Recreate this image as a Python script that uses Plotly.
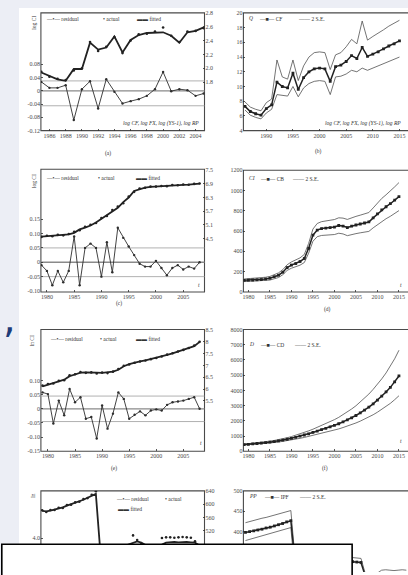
import plotly.graph_objects as go

# ---------------- data ----------------
years_a = list(range(1985, 2006))
resid_a = [0.027, 0.009, 0.009, 0.017, -0.088, 0.005, 0.029, -0.053, 0.035, -0.003, -0.038,
           -0.031, -0.025, -0.015, 0.005, 0.057, -0.001, 0.005, 0.002, -0.015, -0.008]
fitted_a = [1.94, 1.89, 1.84, 1.82, 1.99, 1.99, 2.37, 2.27, 2.30, 2.46, 2.23, 2.41, 2.48,
            2.51, 2.52, 2.52, 2.47, 2.37, 2.52, 2.54, 2.59]
actual_a = [1.95, 1.88, 1.85, 1.83, 1.97, 2.00, 2.38, 2.25, 2.31, 2.45, 2.22, 2.40, 2.49,
            2.50, 2.53, 2.59, 2.47, 2.38, 2.53, 2.54, 2.58]
bands_a = [0.03, 0.0, -0.045]
xt_a = [1986, 1988, 1990, 1992, 1994, 1996, 1998, 2000, 2002, 2004]
yl_a = [0.08, 0.04, 0.0, -0.04, -0.08, -0.12]
yl_a_txt = ["0.08", "0.04", "0", "-0.04", "-0.08", "-0.12"]
yr_a = [1.8, 2.0, 2.2, 2.4, 2.6, 2.8]

years_b = list(range(1986, 2016))
cf_b = [7.3, 6.6, 6.3, 6.1, 7.0, 7.5, 10.6, 10.0, 9.8, 11.8, 9.6, 11.2, 12.0, 12.4, 12.5,
        12.4, 10.7, 12.7, 12.9, 13.4, 14.2, 13.8, 15.3, 14.1, 14.4, 14.7, 15.1, 15.5, 15.8, 16.2]
up_b = [7.9, 7.2, 6.9, 6.7, 7.8, 8.3, 13.6, 11.3, 11.0, 13.6, 10.8, 12.8, 14.0, 14.6, 14.7,
        14.6, 12.3, 14.3, 14.6, 15.4, 16.4, 15.8, 18.9, 16.3, 16.8, 17.2, 17.7, 18.2, 18.6, 19.0]
lo_b = [6.8, 6.1, 5.8, 5.6, 6.4, 6.9, 8.9, 8.8, 8.7, 10.0, 8.6, 9.8, 10.4, 10.7, 10.8,
        10.7, 8.9, 11.3, 11.4, 11.7, 12.2, 12.0, 12.5, 12.2, 12.5, 12.8, 13.1, 13.4, 13.7, 14.0]
xt_b = [1990, 1995, 2000, 2005, 2010, 2015]
yt_b = [4, 6, 8, 10, 12, 14, 16, 18, 20]

years_c = list(range(1979, 2009))
resid_c = [-0.01, -0.03, -0.08, -0.03, -0.07, -0.03, 0.09, -0.08, 0.05, 0.065, 0.05, -0.05,
           0.07, -0.035, 0.12, 0.085, 0.055, 0.025, -0.005, -0.015, -0.015, 0.005, -0.02,
           -0.045, -0.02, -0.01, -0.025, -0.015, -0.022, 0.0]
fitted_c = [4.58, 4.60, 4.62, 4.64, 4.66, 4.68, 4.75, 4.90, 4.98, 5.07, 5.20, 5.36, 5.52,
            5.70, 5.85, 6.10, 6.30, 6.59, 6.68, 6.74, 6.77, 6.79, 6.80, 6.82, 6.84, 6.85,
            6.86, 6.87, 6.89, 6.91]
actual_c = [4.57, 4.62, 4.60, 4.66, 4.64, 4.70, 4.80, 4.86, 5.02, 5.10, 5.18, 5.40, 5.49,
            5.75, 5.90, 6.05, 6.34, 6.55, 6.70, 6.73, 6.78, 6.78, 6.81, 6.80, 6.85, 6.84,
            6.87, 6.86, 6.90, 6.92]
bands_c = [0.05, 0.0, -0.05]
xt_c = [1980, 1985, 1990, 1995, 2000, 2005]
yl_c = [0.15, 0.10, 0.05, 0.0, -0.05, -0.10]
yl_c_txt = ["0.15", "0.10", "0.05", "0", "-0.05", "-0.10"]
yr_c = [4.5, 5.1, 5.7, 6.3, 6.9, 7.5]

years_d = list(range(1979, 2016))
cf_d = [115, 117, 118, 120, 122, 128, 135, 150, 165, 195, 240, 265, 280, 300, 330, 430, 560,
        610, 625, 630, 635, 640, 655, 650, 635, 650, 660, 670, 680, 690, 730, 770, 810, 840,
        870, 905, 940]
up_d = [128, 130, 132, 135, 138, 145, 153, 170, 188, 220, 268, 296, 313, 336, 370, 478, 620,
        675, 693, 700, 707, 714, 731, 728, 715, 732, 745, 757, 770, 783, 828, 875, 922, 958,
        994, 1036, 1078]
lo_d = [102, 104, 104, 105, 106, 111, 117, 130, 142, 170, 212, 234, 247, 264, 290, 382, 500,
        545, 557, 560, 563, 566, 579, 572, 555, 568, 575, 583, 590, 597, 632, 665, 698, 722,
        746, 774, 802]
xt_d = [1980, 1985, 1990, 1995, 2000, 2005, 2010, 2015]
yt_d = [0, 200, 400, 600, 800, 1000, 1200]

years_e = list(range(1979, 2009))
resid_e = [0.058, 0.052, -0.052, 0.029, -0.023, 0.07, 0.023, 0.041, -0.035, -0.029, -0.105,
           0.012, -0.07, -0.017, 0.058, 0.035, -0.035, -0.021, -0.009, -0.023, -0.006,
           -0.002, -0.006, 0.014, 0.023, 0.026, 0.029, 0.035, 0.041, 0.0]
fitted_e = [6.12, 6.20, 6.27, 6.33, 6.40, 6.55, 6.62, 6.70, 6.71, 6.72, 6.70, 6.69, 6.71,
            6.74, 6.82, 6.97, 7.06, 7.13, 7.17, 7.22, 7.27, 7.32, 7.38, 7.45, 7.51, 7.58,
            7.65, 7.72, 7.82, 8.00]
actual_e = [6.15, 6.22, 6.24, 6.35, 6.38, 6.59, 6.63, 6.72, 6.69, 6.71, 6.66, 6.70, 6.68,
            6.74, 6.85, 6.99, 7.04, 7.12, 7.17, 7.21, 7.27, 7.32, 7.38, 7.46, 7.52, 7.59,
            7.66, 7.74, 7.84, 8.00]
bands_e = [0.045, 0.0, -0.045]
xt_e = [1980, 1985, 1990, 1995, 2000, 2005]
yl_e = [0.10, 0.05, 0.0, -0.05, -0.10, -0.15]
yl_e_txt = ["0.10", "0.05", "0", "-0.05", "-0.10", "-0.15"]
yr_e = [5.5, 6.0, 6.5, 7.0, 7.5, 8.0, 8.5]

years_f = list(range(1979, 2016))
cf_f = [440, 460, 480, 510, 540, 570, 600, 640, 680, 730, 790, 850, 920, 990, 1070, 1150,
        1240, 1330, 1420, 1510, 1600, 1700, 1810, 1930, 2060, 2200, 2350, 2520, 2700, 2900,
        3120, 3360, 3620, 3900, 4200, 4560, 4950]
up_f = [470, 495, 520, 555, 590, 625, 665, 710, 760, 820, 890, 965, 1050, 1140, 1240, 1340,
        1450, 1570, 1690, 1810, 1940, 2080, 2230, 2400, 2580, 2780, 2990, 3230, 3480, 3760,
        4070, 4400, 4760, 5150, 5580, 6080, 6640]
lo_f = [410, 428, 445, 470, 495, 520, 545, 575, 605, 645, 690, 740, 795, 850, 910, 975,
        1040, 1110, 1180, 1250, 1310, 1390, 1470, 1560, 1650, 1750, 1860, 1980, 2110, 2250,
        2400, 2570, 2750, 2940, 3150, 3390, 3650]
xt_f = [1980, 1985, 1990, 1995, 2000, 2005, 2010, 2015]
yt_f = [0, 1000, 2000, 3000, 4000, 5000, 6000, 7000, 8000]

idx_g = list(range(40))
fitted_g = [580, 579, 581, 584, 588, 591, 596, 600, 604, 609, 614, 620, 627, 632,
            470, 465, 462, 463, 465, 470, 474, 478, 482, 488, 484, 478, 470, 468, 472, 478,
            484, 486, 486, 485, 486, 486, 485, 484, 476, 470]
actual_g = [582, 577, 583, 583, 590, 589, 598, 599, 606, 608, 616, 619, 629, 640,
            466, 462, 465, 460, 468, 468, 476, 475, 506, 492, 480, 475, 472, 465, 475, 498,
            500, 500, 499, 500, 501, 500, 499, 488, 472, 468]
resid_g = [3.55, 3.50, 3.58, 3.45, 3.60, 3.48, 3.62, 3.50, 3.57, 3.46, 3.60, 3.50, 3.58, 3.70,
           3.30, 3.40, 3.52, 3.38, 3.55, 3.45, 3.60, 3.47, 3.75, 3.50, 3.42, 3.48, 3.55, 3.40,
           3.52, 3.78, 3.68, 3.62, 3.60, 3.64, 3.66, 3.60, 3.58, 3.50, 3.45, 3.48]
yl_g = [4.0]
yr_g = [520, 560, 600, 640]

idx_h = list(range(40))
cf_h = [398, 400, 402, 404, 406, 409, 411, 414, 417, 420, 424, 427,
        326, 325, 327, 324, 326, 325, 327, 326, 324, 326, 325, 327, 326, 325, 326, 325, 324,
        292, 290, 289, 291, 290, 289, 290, 291, 290, 289, 290]
up_h = [422, 425, 427, 430, 433, 435, 438, 441, 444, 447, 450, 452,
        336, 335, 337, 334, 336, 335, 337, 336, 334, 336, 335, 337, 336, 335, 336, 335, 334,
        298, 298, 298, 298, 305, 306, 305, 304, 305, 306, 305]
lo_h = [378, 381, 384, 386, 389, 392, 395, 398, 401, 404, 407, 410,
        298, 297, 298, 296, 298, 297, 298, 297, 296, 298, 297, 298, 297, 296, 298, 297, 296,
        270, 269, 270, 268, 270, 269, 270, 268, 270, 269, 270]
yt_h = [400, 450, 500]

# ---------------- helpers ----------------
W, H = 408, 575
def fx(p): return p / W
def fy(p): return 1 - p / H

FONT = "Liberation Serif"
INK = "#2e2e2e"
TICKFONT = dict(family=FONT, size=6, color="#4a4a4a")

layout = dict(width=W, height=H, autosize=False, margin=dict(l=0, r=0, t=0, b=0),
              paper_bgcolor="#eceef5", plot_bgcolor="rgba(0,0,0,0)", showlegend=False,
              hovermode=False)
shapes = []
annots = []
traces = []

# white page
shapes.append(dict(type="rect", xref="paper", yref="paper", x0=fx(18), x1=1.05, y0=-0.05,
                   y1=fy(5), fillcolor="white", line=dict(width=0), layer="below"))

def common_axis():
    return dict(ticks="inside", ticklen=2, tickwidth=0.8, tickcolor=INK, showgrid=False,
                zeroline=False, showline=False, tickfont=TICKFONT, tickangle=0,
                tickmode="array", fixedrange=True)

def add_box(box):
    x0, y0, x1, y1 = box
    shapes.append(dict(type="rect", xref="paper", yref="paper", x0=fx(x0), x1=fx(x1),
                       y0=fy(y1), y1=fy(y0), line=dict(color="#4a4a4a", width=1.1),
                       fillcolor="rgba(0,0,0,0)", layer="below"))

def set_x(name, box, rng, tickvals, anchor, show=True):
    x0, y0, x1, y1 = box
    d = common_axis()
    d.update(domain=[fx(x0), min(1.0, fx(x1))], range=rng, tickvals=tickvals,
             anchor=anchor, showticklabels=show)
    layout[name] = d

def set_y(name, box, rng, tickvals, anchor, side="left", overlaying=None, ticktext=None):
    x0, y0, x1, y1 = box
    d = common_axis()
    d.update(domain=[max(0.0, fy(y1)), fy(y0)], range=rng, tickvals=tickvals,
             anchor=anchor, side=side)
    if ticktext is not None:
        d["ticktext"] = ticktext
    if overlaying:
        d["overlaying"] = overlaying
    layout[name] = d

def txt(x, y, s, size=6, anchor="left", italic=False, angle=0, color="#333", family=FONT,
        yanchor="middle"):
    annots.append(dict(x=fx(x), y=fy(y), xref="paper", yref="paper", text=s,
                       showarrow=False, xanchor=anchor, yanchor=yanchor, textangle=angle,
                       font=dict(family=family, size=size, color=color,
                                 style="italic" if italic else "normal")))

def band_lines(xref, yref, vals):
    for v in vals:
        shapes.append(dict(type="line", xref=xref + " domain", yref=yref, x0=0, x1=1,
                           y0=v, y1=v, layer="below",
                           line=dict(color="#8a8a8a" if v == 0 else "#a8a8a8",
                                     width=1.3 if v == 0 else 0.9)))

def resid_trace(x, y, xa, ya):
    traces.append(go.Scatter(x=x, y=y, xaxis=xa, yaxis=ya, mode="lines+markers",
                             line=dict(color=INK, width=0.9),
                             marker=dict(size=2.4, color=INK)))

def fit_traces(x, fit, act, xa, ya):
    traces.append(go.Scatter(x=x, y=fit, xaxis=xa, yaxis=ya, mode="lines",
                             line=dict(color="#222", width=1.8)))
    traces.append(go.Scatter(x=x, y=act, xaxis=xa, yaxis=ya, mode="markers",
                             marker=dict(size=2.6, color="#222")))

def fc_traces(x, cf, up, lo, xa, ya):
    for s in (up, lo):
        traces.append(go.Scatter(x=x, y=s, xaxis=xa, yaxis=ya, mode="lines",
                                 line=dict(color="#505050", width=0.8)))
    traces.append(go.Scatter(x=x, y=cf, xaxis=xa, yaxis=ya, mode="lines+markers",
                             line=dict(color="#222", width=1.5),
                             marker=dict(size=2.8, color="#222", symbol="square")))

# ---------------- panel boxes ----------------
A = (40, 10, 204, 129)
B = (243, 10, 420, 129)
C = (40, 168, 204, 292)
D = (243, 169, 420, 292)
E = (40, 330, 204, 453)
F = (243, 330, 420, 453)
G = (40, 493, 204, 600)
Hb = (243, 493, 420, 600)
for bx in (A, B, C, D, E, F, G, Hb):
    add_box(bx)

# (a)
set_x("xaxis", A, [1984.95, 2005.1], xt_a, "y")
set_y("yaxis", A, [-0.12, 0.235], yl_a, "x", ticktext=yl_a_txt)
set_y("yaxis2", A, [1.1, 2.8], yr_a, "x", side="right", overlaying="y",
      ticktext=["1.8", "2.0", "2.2", "2.4", "2.6", "2.8"])
band_lines("x", "y", bands_a)
resid_trace(years_a, resid_a, "x", "y")
fit_traces(years_a, fitted_a, actual_a, "x", "y2")

# (b)
set_x("xaxis2", B, [1985.7, 2016.6], xt_b, "y3")
set_y("yaxis3", B, [4, 20], yt_b, "x2")
fc_traces(years_b, cf_b, up_b, lo_b, "x2", "y3")

# (c)
set_x("xaxis3", C, [1978.9, 2008.9], xt_c, "y4")
set_y("yaxis4", C, [-0.1034, 0.324], yl_c, "x3", ticktext=yl_c_txt)
set_y("yaxis5", C, [2.152, 7.543], yr_c, "x3", side="right", overlaying="y4")
band_lines("x3", "y4", bands_c)
resid_trace(years_c, resid_c, "x3", "y4")
fit_traces(years_c, fitted_c, actual_c, "x3", "y5")

# (d)
set_x("xaxis4", D, [1978.84, 2017.1], xt_d, "y6")
set_y("yaxis6", D, [0, 1200], yt_d, "x4")
fc_traces(years_d, cf_d, up_d, lo_d, "x4", "y6")

# (e)
set_x("xaxis5", E, [1978.7, 2008.9], xt_e, "y7")
set_y("yaxis7", E, [-0.15, 0.28], yl_e, "x5", ticktext=yl_e_txt)
set_y("yaxis8", E, [3.375, 8.52], yr_e, "x5", side="right", overlaying="y7")
band_lines("x5", "y7", bands_e)
resid_trace(years_e, resid_e, "x5", "y7")
fit_traces(years_e, fitted_e, actual_e, "x5", "y8")

# (f)
set_x("xaxis6", F, [1978.84, 2017.1], xt_f, "y9")
set_y("yaxis9", F, [0, 8000], yt_f, "x6")
fc_traces(years_f, cf_f, up_f, lo_f, "x6", "y9")

# (g)
set_x("xaxis7", G, [-0.3, 39.3], [], "y10", show=False)
set_y("yaxis10", G, [3.171, 5.171], yl_g, "x7", ticktext=["4.0"])
set_y("yaxis11", G, [395, 641], yr_g, "x7", side="right", overlaying="y10")
layout["yaxis10"]["domain"] = [0.0, fy(493)]
resid_trace(idx_g, resid_g, "x7", "y10")
fit_traces(idx_g, fitted_g, actual_g, "x7", "y11")

# (h)
set_x("xaxis8", Hb, [-0.5, 39.4], [], "y12", show=False)
set_y("yaxis12", Hb, [300.5, 500.5], yt_h, "x8")
layout["yaxis12"]["domain"] = [0.0, fy(493)]
fc_traces(idx_h, cf_h, up_h, lo_h, "x8", "y12")

# ---------------- texts ----------------
def resid_legend(y, x_res, x_act, x_fit):
    txt(x_res, y, "—•— residual", size=5.5)
    txt(x_act, y, "• actual", size=5.5)
    txt(x_fit, y, "▬▬ fitted", size=5.5)

resid_legend(16, 43, 100, 134)
resid_legend(177, 43, 95, 133)
resid_legend(340, 47, 97, 133)
txt(113, 501, "—•— residual", size=5.5)
txt(162, 501, "• actual", size=5.5)
txt(115, 511, "▬▬ fitted", size=5.5)

txt(33, 20, "log CI", size=5.5, angle=-90, anchor="center")
txt(33, 180, "log CI", size=5.5, angle=-90, anchor="center")
txt(32, 341, "ln CI", size=5.5, angle=-90, anchor="center")
txt(32, 497, "ln", size=5.5, angle=-90, anchor="center")

txt(200, 122, "log CF, log FX, log (YS-1), log RP", size=5.5, anchor="right", italic=True)
txt(403, 122, "log CF, log FX, log (YS-1), log RP", size=5.5, anchor="right", italic=True)

def fc_legend(y, xl, lab, xs, name, xse):
    txt(xl, y - 1, lab, size=5.5, italic=True)
    txt(xs, y, "—■— " + name, size=5.5)
    txt(xse, y, "—— 2 S.E.", size=5.5)

fc_legend(16, 247, "Q", 257, "CF", 296)
fc_legend(178, 247, "CI", 258, "CB", 290)
fc_legend(346, 247, "D", 258, "CD", 292)
fc_legend(499, 247, "PP", 262, "IPF", 297)

for (x, y) in ((198, 285), (401, 285), (200, 445), (401, 443)):
    txt(x, y, "t", size=5.5, italic=True, anchor="center")

for (x, y, s) in ((107, 152, "(a)"), (318, 150, "(b)"), (118, 304, "(c)"),
                  (327, 310, "(d)"), (113, 470, "(e)"), (325, 470, "(f)")):
    txt(x, y, s, size=5.5, anchor="center")

# blue comma mark on the left margin
txt(9, 318, ",", size=40, anchor="center", color="#1f3c78", family="DejaVu Sans")

# white label box covering the bottom
shapes.append(dict(type="rect", xref="paper", yref="paper", x0=fx(0.8), x1=fx(352),
                   y0=-0.05, y1=fy(547), fillcolor="white",
                   line=dict(color="black", width=1.6), layer="above"))

layout["shapes"] = shapes
layout["annotations"] = annots
fig = go.Figure(data=traces, layout=layout)
fig.write_html("out.html", config={"displayModeBar": False, "staticPlot": True},
               post_script="document.body.style.margin='0';document.body.style.padding='0';")
